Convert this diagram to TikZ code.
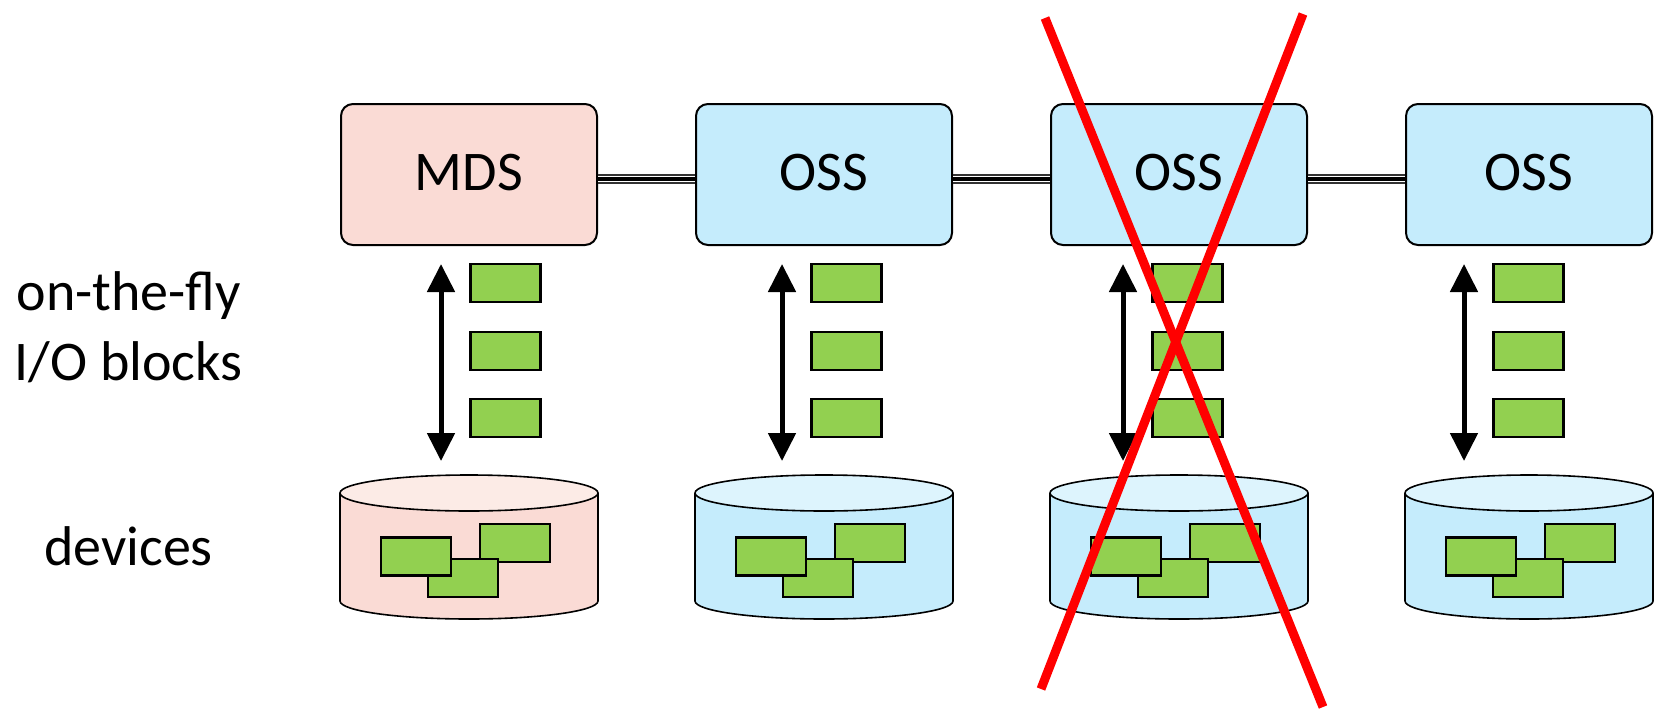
\documentclass[tikz,border=0pt]{standalone}
\usepackage{fontspec}
\setmainfont{Carlito}
\usetikzlibrary{arrows.meta,positioning}
\definecolor{mdsfill}{HTML}{FADBD5}
\definecolor{mdstop}{HTML}{FCEBE6}
\definecolor{ossfill}{HTML}{C5ECFC}
\definecolor{osstop}{HTML}{DDF4FD}
\definecolor{iogreen}{HTML}{92D050}

\begin{document}
\begin{tikzpicture}[x=0.5pt,y=-0.5pt,>={Triangle[length=14pt,width=13.5pt]},node distance=48.5pt,font=\fontsize{28pt}{35pt}\selectfont,server/.style={draw,line width=1pt,rounded corners=6pt,minimum width=128pt,minimum height=70.5pt,inner sep=0pt,text depth=2.5pt},blk/.style={draw,line width=1.2pt,fill=iogreen,minimum width=35pt,minimum height=19pt,inner sep=0pt},link/.style={draw=black!80,line width=5pt,postaction={draw=white,line width=3.3pt},postaction={draw=black,line width=1.7pt}},io/.style={<->,line width=2.5pt},cross/.style={draw=red,line width=4.5pt}]
\useasboundingbox (0,0) rectangle (1654,712);
% servers
\node[server,fill=mdsfill] (mds) at (469,174.5) {MDS};
\node[server,fill=ossfill,right=of mds] (oss1) {OSS};
\node[server,fill=ossfill,right=of oss1] (oss2) {OSS};
\node[server,fill=ossfill,right=of oss2,minimum width=123pt] (oss3) {OSS};
\foreach \a/\b in {mds/oss1,oss1/oss2,oss2/oss3}
  \draw[link] ([yshift=-2.25pt]\a.east) -- ([yshift=-2.25pt]\b.west);
% blocks in flight and devices
\foreach \i/\cx/\rx/\bodyc/\topc in {0/469/129/mdsfill/mdstop,1/824/129/ossfill/osstop,2/1179/129/ossfill/osstop,3/1529/124/ossfill/osstop}{
  \coordinate (up\i) at (441+341*\i,264);
  \coordinate (dn\i) at (441+341*\i,461);
  \draw[io] (up\i) -- (dn\i);
  \node[blk] (q\i a) at (505.5+341*\i,283) {};
  \node[blk] (q\i b) at (505.5+341*\i,351) {};
  \node[blk] (q\i c) at (505.5+341*\i,418) {};
  \filldraw[fill=\bodyc,line width=0.8pt] (\cx-\rx,493) -- (\cx-\rx,601) arc[start angle=180,end angle=360,x radius={\rx*0.5pt},y radius=9pt] -- (\cx+\rx,493);
  \filldraw[fill=\topc,line width=0.8pt] (\cx,493) ellipse[x radius={\rx*0.5pt},y radius=9pt];
  \node[blk] (d\i c) at (\cx-\rx+175,543) {};
  \node[blk] (d\i b) at (\cx-\rx+123,578) {};
  \node[blk] (d\i a) at (\cx-\rx+76,556.5) {};
}
% labels
\node[align=center] (fly) at (128.5,327) {on-the-fly\\I/O blocks};
\node[anchor=base] (dev) at (128.5,565) {devices};
% failed server
\coordinate (x1) at (1045,18);
\coordinate (x2) at (1323,707);
\coordinate (x3) at (1303,14);
\coordinate (x4) at (1041,689);
\draw[cross] (x1) -- (x2);
\draw[cross] (x3) -- (x4);
\end{tikzpicture}
\end{document}
